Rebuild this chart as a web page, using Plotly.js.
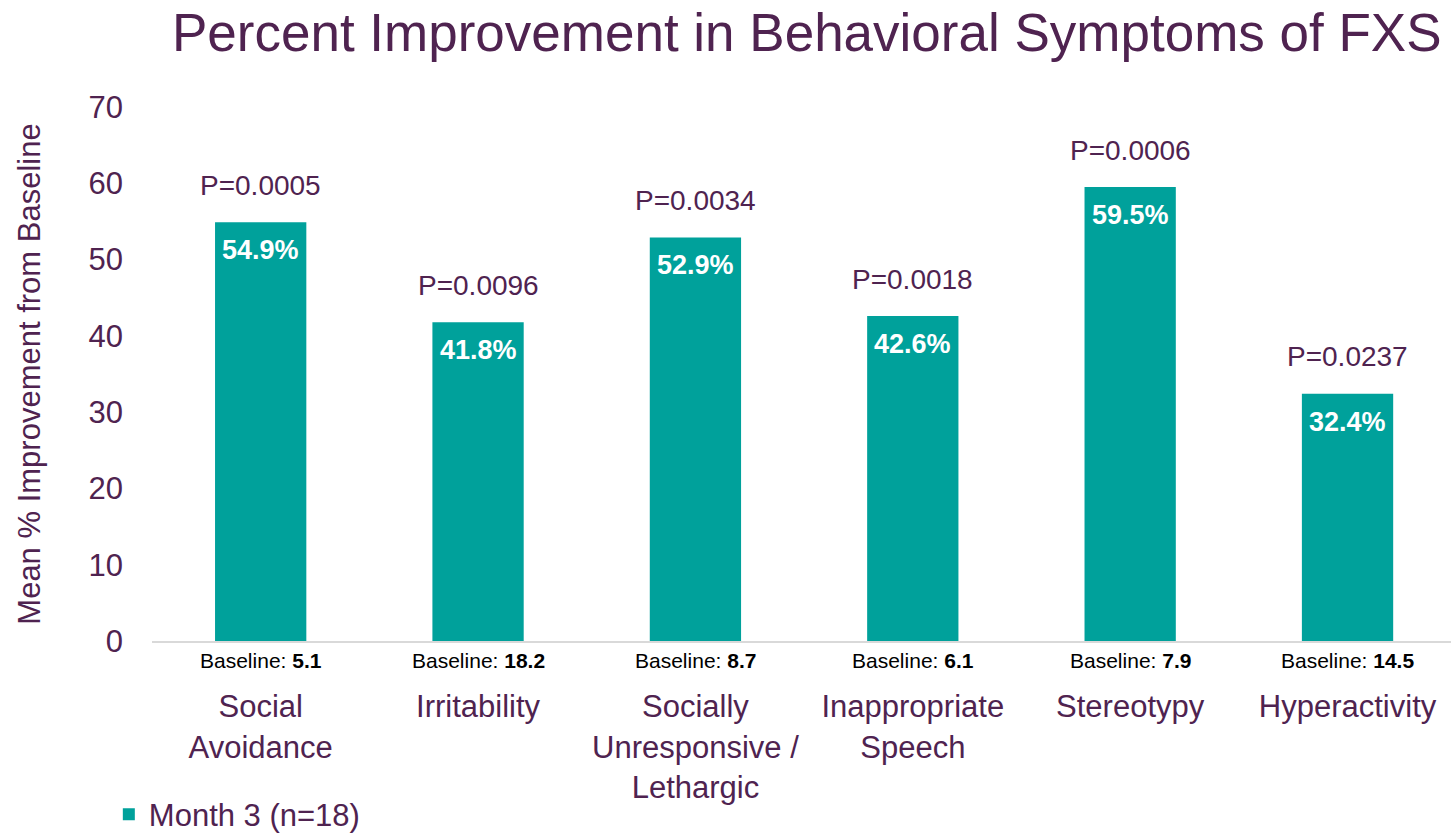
<!DOCTYPE html>
<html>
<head>
<meta charset="utf-8">
<script src="https://cdn.plot.ly/plotly-3.0.1.min.js"></script>
<style>html,body{margin:0;padding:0;background:#fff;}#chart{width:1451px;height:833px;}</style>
</head>
<body>
<div id="chart"></div>
<script>
const categories = ["Social<br>Avoidance", "Irritability", "Socially<br>Unresponsive /<br>Lethargic", "Inappropriate<br>Speech", "Stereotypy", "Hyperactivity"];
const improvement = [54.9, 41.8, 52.9, 42.6, 59.5, 32.4];
const pValues = ["0.0005", "0.0096", "0.0034", "0.0018", "0.0006", "0.0237"];
const baselines = ["5.1", "18.2", "8.7", "6.1", "7.9", "14.5"];
const seriesName = "Month 3 (n=18)";

const purple = "#4f2350";
const teal = "#00a19b";
const fontFam = "Liberation Sans, Arial, sans-serif";

const annotations = [];
categories.forEach((c, i) => {
  annotations.push({x: c, y: improvement[i], xref: 'x', yref: 'y', text: 'P=' + pValues[i], showarrow: false,
    yanchor: 'middle', yshift: 37, font: {family: fontFam, size: 28, color: purple}});
  annotations.push({x: c, y: improvement[i], xref: 'x', yref: 'y', text: '<b>' + improvement[i].toFixed(1) + '%</b>', showarrow: false,
    yanchor: 'middle', yshift: -28, font: {family: fontFam, size: 27, color: '#ffffff'}});
  annotations.push({x: c, y: 0, xref: 'x', yref: 'y', text: 'Baseline: <b>' + baselines[i] + '</b>', showarrow: false,
    yanchor: 'middle', yshift: -19, font: {family: fontFam, size: 21, color: '#000000'}});
});

const data = [{
  type: 'bar', x: categories, y: improvement, name: seriesName,
  marker: {color: teal}, width: 0.42, showlegend: true, hoverinfo: 'skip'
}];

const layout = {
  width: 1451, height: 833,
  margin: {l: 152, r: 0, t: 107, b: 192},
  paper_bgcolor: '#ffffff', plot_bgcolor: '#ffffff',
  font: {family: fontFam, color: purple},
  title: {text: 'Percent Improvement in Behavioral Symptoms of FXS', font: {family: fontFam, size: 53, color: purple},
    x: 0.556, xanchor: 'center', xref: 'container', y: 0.9616, yanchor: 'middle', yref: 'container'},
  xaxis: {type: 'category', range: [-0.5, 5.476], showgrid: false, zeroline: false, showline: true,
    linecolor: '#d9d9d9', linewidth: 2, ticks: '', ticklen: 0, tickfont: {family: fontFam, size: 31, color: purple},
    ticklabelstandoff: 37, automargin: false, fixedrange: true},
  yaxis: {range: [0, 70], dtick: 10, tick0: 0, showgrid: false, zeroline: false, showline: false, ticks: '', ticklen: 0,
    tickfont: {family: fontFam, size: 31, color: purple}, ticklabelstandoff: 28, automargin: false,
    title: {text: 'Mean % Improvement from Baseline', font: {family: fontFam, size: 31, color: purple}, standoff: 38}, fixedrange: true},
  showlegend: true,
  legend: {orientation: 'h', x: 0.075, xref: 'container', xanchor: 'left', y: 0.022, yref: 'container', yanchor: 'middle',
    font: {family: fontFam, size: 31, color: purple}, bgcolor: 'rgba(0,0,0,0)'},
  annotations: annotations,
  bargap: 0.58
};

Plotly.newPlot('chart', data, layout, {displayModeBar: false, staticPlot: true});
</script>
</body>
</html>
